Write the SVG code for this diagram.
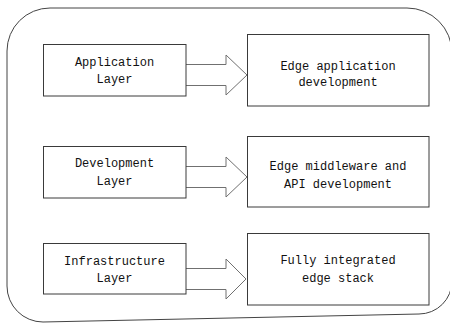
<svg xmlns="http://www.w3.org/2000/svg" width="450" height="324" viewBox="0 0 450 324">
<style>
.box{fill:#fff;stroke:#3a3a3a;stroke-width:1}
.arr{fill:#fff;stroke:#707070;stroke-width:1}
.outer{fill:#fff;stroke:#444;stroke-width:1}
text{font-family:"Liberation Mono","DejaVu Sans Mono",monospace;font-size:12px;fill:#111;text-anchor:middle}
</style>
<rect width="450" height="324" fill="#fff"/>
<path class="outer" d="M 7,51 A 43 43 0 0 1 50,8 L 407,8 A 45 45 0 0 1 452,53 L 452,281 A 33 33 0 0 1 419,314 L 43,322 A 36 36 0 0 1 7,286 Z"/>
<g id="connectors">
<path class="arr" d="M 186,64.5 L 226,64.5 L 226,55 L 247,75 L 226,95 L 226,85.5 L 186,85.5"/>
<path class="arr" d="M 186,166.5 L 226,166.5 L 226,157 L 247,177 L 226,197 L 226,187.5 L 186,187.5"/>
<path class="arr" d="M 186,268.5 L 226,268.5 L 226,259 L 246,279 L 226,299 L 226,289.5 L 186,289.5"/>
</g>
<g id="app-layer"><rect class="box" x="43.5" y="44.5" width="142.5" height="51.5"/><text x="114.5" y="66">Application</text><text x="114.5" y="83">Layer</text></g>
<g id="dev-layer"><rect class="box" x="43.5" y="146.5" width="142.5" height="51.5"/><text x="114.5" y="167">Development</text><text x="114.5" y="185">Layer</text></g>
<g id="infra-layer"><rect class="box" x="43.5" y="243.5" width="142.5" height="50.5"/><text x="114.5" y="265">Infrastructure</text><text x="114.5" y="282">Layer</text></g>
<g id="edge-app"><rect class="box" x="247.5" y="34.5" width="181.5" height="71.5"/><text x="338" y="70">Edge application</text><text x="338" y="86">development</text></g>
<g id="edge-mid"><rect class="box" x="247.5" y="136.5" width="181.5" height="70.5"/><text x="338" y="170">Edge middleware and</text><text x="338" y="188">API development</text></g>
<g id="edge-stack"><rect class="box" x="247.5" y="233.5" width="181.5" height="71.5"/><text x="338" y="264">Fully integrated</text><text x="338" y="282">edge stack</text></g>
</svg>
